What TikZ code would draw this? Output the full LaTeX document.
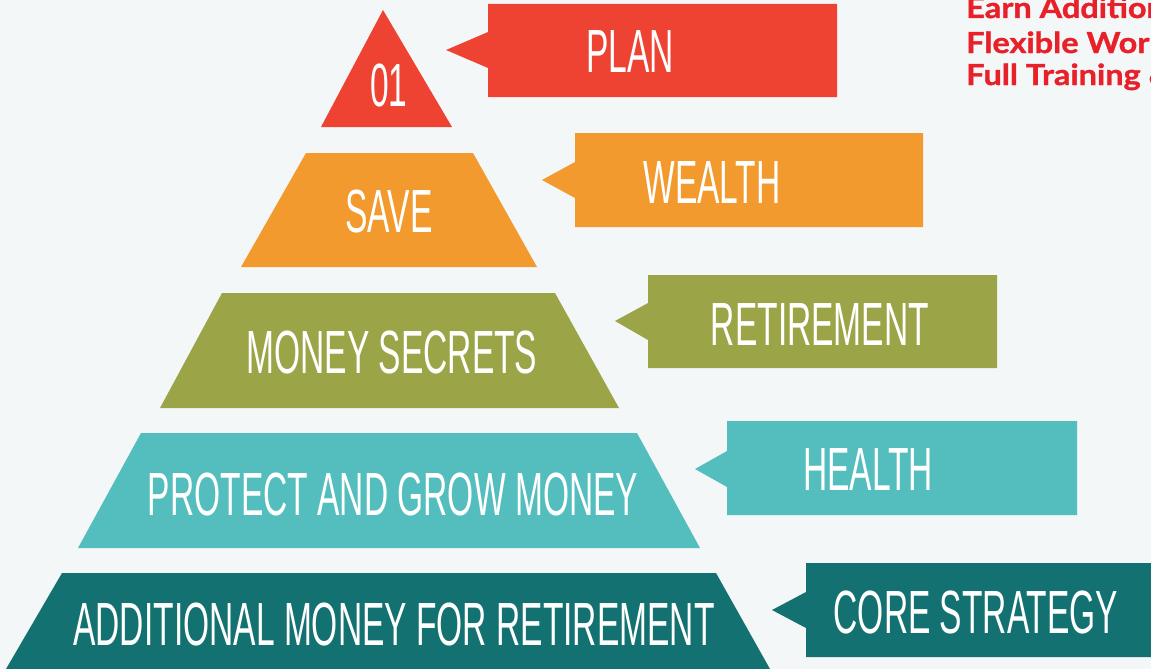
\documentclass[tikz,border=0pt]{standalone}
\usepackage{fontspec}
\newfontfamily\bebas[FakeStretch=0.55]{Liberation Sans}
\newfontfamily\lato[FakeStretch=1.12,FakeBold=1.2]{Lato}
\definecolor{bgc}{HTML}{F4F7F7}
\definecolor{cred}{HTML}{EE4232}
\definecolor{corange}{HTML}{F29A2E}
\definecolor{colive}{HTML}{9BA548}
\definecolor{cteal}{HTML}{54BDBE}
\definecolor{cdark}{HTML}{137271}
\definecolor{cinfo}{HTML}{E8202A}

\begin{document}
\begin{tikzpicture}[x=1pt,y=-1pt]
\tikzstyle{lbl}=[text=white,font=\bebas\fontsize{61}{61}\selectfont,anchor=base,inner sep=0pt]
\tikzstyle{info}=[text=cinfo,font=\lato\bfseries\fontsize{29}{29}\selectfont,anchor=base west,inner sep=0pt]
\fill[bgc] (0,0) rectangle (1151,669);
\useasboundingbox (0,0) rectangle (1151,669);
\begin{scope}
\clip (0,0) rectangle (1151,669);
% pyramid levels
\fill[cred] (383,10) -- (452,127) -- (321,127) -- cycle;
\fill[corange] (306,153) -- (473,153) -- (537,267) -- (241,267) -- cycle;
\fill[colive] (222,293) -- (555,293) -- (619,408) -- (160,408) -- cycle;
\fill[cteal] (141,433) -- (637,433) -- (700,548) -- (78,548) -- cycle;
\fill[cdark] (62,573) -- (716,573) -- (770,669) -- (6,669) -- cycle;
% callouts
\fill[cred] (446,50) -- (488,32) -- (488,4) -- (837,4) -- (837,97) -- (488,97) -- (488,68) -- cycle;
\fill[corange] (542,180) -- (575,162) -- (575,133) -- (923,133) -- (923,227) -- (575,227) -- (575,198) -- cycle;
\fill[colive] (615,321) -- (648,303) -- (648,275) -- (997,275) -- (997,368) -- (648,368) -- (648,340) -- cycle;
\fill[cteal] (695,469) -- (727,451) -- (727,421) -- (1077,421) -- (1077,515) -- (727,515) -- (727,487) -- cycle;
\fill[cdark] (772,610) -- (806,592) -- (806,563) -- (1160,563) -- (1160,657) -- (806,657) -- (806,628) -- cycle;

\node[lbl] (one) at (389,106) {01};
\node[lbl] (plan) at (630,73) {PLAN};
\node[lbl] (save) at (389,232) {SAVE};
\node[lbl] (wealth) at (712,203) {WEALTH};
\node[lbl] (secrets) at (392,373) {MONEY SECRETS};
\node[lbl] (retire) at (820,345) {RETIREMENT};
\node[lbl] (protect) at (393,515) {PROTECT AND GROW MONEY};
\node[lbl] (health) at (868,490) {HEALTH};
\node[lbl] (additional) at (394,645) {ADDITIONAL MONEY FOR RETIREMENT};
\node[lbl] (core) at (976,633) {CORE STRATEGY};

\node[info] (earn) at (966,18) {Earn Additional};
\node[info] (flexible) at (966,53) {Flexible Working};
\node[info] (training) at (966,85) {Full Training \&};
\end{scope}
\end{tikzpicture}
\end{document}
